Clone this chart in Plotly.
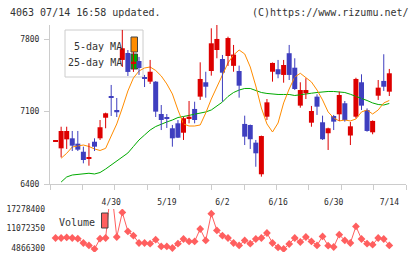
import plotly.graph_objects as go

dates = ["4/15","4/16","4/17","4/20","4/21","4/22","4/23","4/24","4/27","4/28","4/30",
         "5/1","5/7","5/8","5/11","5/12","5/13","5/14","5/15","5/18","5/19","5/20","5/21","5/22","5/25","5/26","5/27","5/28","5/29",
         "6/1","6/2","6/3","6/4","6/5","6/8","6/9","6/10","6/11","6/12","6/15","6/16","6/17","6/18","6/19","6/22","6/23","6/24","6/25","6/26","6/29","6/30",
         "7/1","7/2","7/3","7/6","7/7","7/8","7/9","7/10","7/13","7/14"]

opens = [6810,6745,6832,6842,6790,6712,6647,6809,6842,7041,7251,7116,7600,7667,7561,7590,7428,7390,7390,7077,
         7045,6939,6987,6896,7029,7126,7245,7384,7493,7696,7609,7638,7543,7493,6981,6971,6800,6494,7051,7486,
         7510,7455,7665,7525,7158,7278,6993,7245,6997,6891,7058,7074,7181,6869,7051,7384,7116,6900,7254,7397,7293]
highs = [6815,6954,6954,6913,6913,6761,6794,6842,7019,7090,7358,7232,7890,7696,7677,7629,7455,7600,7395,7164,
         7077,6971,7019,7051,7203,7196,7577,7486,7906,7938,7648,7825,7745,7545,7061,6975,6826,6868,7222,7575,
         7600,7600,7745,7616,7384,7423,7155,7268,7061,6945,7068,7293,7203,7000,7428,7461,7132,7015,7406,7655,7513]
lows = [6810,6658,6739,6719,6719,6600,6577,6719,6826,6939,7058,7048,7532,7445,7484,7455,7338,7368,7048,6922,
        6942,6761,6845,6826,6987,6987,7213,7235,7448,7616,7196,7542,7486,7235,6777,6739,6567,6471,7019,7390,
        7423,7380,7406,7309,7138,7222,6954,7068,6826,6729,6922,7010,7003,6777,7036,7116,6906,6881,7213,7300,7251]
closes = [6815,6913,6913,6771,6732,6632,6661,6761,6949,7084,7237,7094,7713,7484,7583,7522,7420,7486,7100,7019,
          7035,6842,6848,7036,7051,7019,7416,7341,7761,7803,7477,7812,7652,7351,6858,6833,6697,6864,7190,7571,
          7461,7551,7455,7319,7309,7309,7106,7148,6833,6939,7003,7261,7019,6958,7416,7158,6913,7010,7332,7341,7471]

ma5 = [None,6649,6697,6758,6771,6777,6763,6739,6724,6745,6864,6981,7135,7300,7426,7493,7522,7532,7498,7445,
       7368,7271,7116,6981,6961,6961,6971,7087,7222,7339,7455,7571,7648,7696,7658,7532,7348,7135,6981,6903,
       6990,7184,7319,7435,7471,7426,7387,7309,7213,7097,7039,7010,7019,7010,7029,7097,7116,7077,7116,7184,7208]
ma25 = [None,6419,6468,6487,6494,6502,6504,6497,6511,6545,6584,6623,6661,6700,6763,6826,6874,6922,6956,6981,
        7000,7019,7043,7053,7063,7072,7084,7097,7116,7155,7193,7247,7285,7309,7324,7324,7305,7285,7276,7268,
        7266,7266,7266,7256,7261,7271,7278,7285,7293,7295,7295,7293,7285,7268,7251,7227,7208,7184,7169,7164,7179]

volume = [8050000,8050000,8240000,8050000,7830000,6460000,5690000,4550000,7830000,8050000,24700000,8370000,
          16200000,10150000,8780000,6460000,6460000,6240000,7510000,5380000,5380000,4870000,6240000,7730000,
          6970000,6970000,10910000,7290000,15780000,10470000,8780000,8050000,6460000,5690000,7290000,6240000,
          7730000,8050000,9640000,6460000,5060000,4550000,6140000,8050000,6780000,8370000,6970000,5690000,
          8560000,5600000,5180000,9100000,7290000,6460000,11740000,7730000,6240000,5920000,8050000,7730000,5690000]

tick_dates = ["4/30", "5/19", "6/2", "6/16", "6/30", "7/14"]
price_ticks = [6400, 7100, 7800]
vol_ticks = [4866300, 11072350, 17278400]

UP = "#dd0000"
DOWN = "#3f3fbf"
MONO = "DejaVu Sans Mono"
TXT = "#2a2a2a"
AX = "#cccccc"

idx = list(range(len(dates)))
label_idx = [dates.index(d) for d in tick_dates]

fig = go.Figure()

# moving averages (under candles)
fig.add_trace(go.Scatter(x=idx, y=ma25, mode="lines", line=dict(color="#00aa00", width=1), hoverinfo="skip"))
fig.add_trace(go.Scatter(x=idx, y=ma5, mode="lines", line=dict(color="#ff8c00", width=1), hoverinfo="skip"))

# wicks
for up, col in ((True, UP), (False, DOWN)):
    wx, wy = [], []
    for i in idx:
        if (closes[i] > opens[i]) == up:
            wx += [i, i, None]
            wy += [lows[i], highs[i], None]
    fig.add_trace(go.Scatter(x=wx, y=wy, mode="lines", line=dict(color=col, width=1), hoverinfo="skip"))

# bodies
for up, col in ((True, UP), (False, DOWN)):
    bx, bb, bh = [], [], []
    for i in idx:
        if (closes[i] > opens[i]) == up:
            bx.append(i)
            bb.append(min(opens[i], closes[i]))
            bh.append(max(abs(closes[i] - opens[i]), 9))
    fig.add_trace(go.Bar(x=bx, y=bh, base=bb, width=0.9, marker=dict(color=col, line=dict(width=0)),
                         hoverinfo="skip"))

# volume
fig.add_trace(go.Scatter(x=idx, y=volume, mode="lines+markers", xaxis="x2", yaxis="y2",
                         line=dict(color="#ff5f5f", width=1),
                         marker=dict(symbol="diamond", size=6, color="#ff5f5f"), hoverinfo="skip"))

# invisible trace for date label axis
fig.add_trace(go.Scatter(x=[label_idx[0]], y=[price_ticks[0]], xaxis="x3", yaxis="y", mode="markers",
                         marker=dict(opacity=0), hoverinfo="skip"))

n_grid = 11
grid_vals = [-1 + k * 64 / n_grid for k in range(n_grid + 1)]

main_dom = [(252 - 184) / 227, 1]
vol_dom = [0, (252 - 209) / 227]

fig.update_layout(
    width=420, height=259, autosize=False,
    margin=dict(l=50, r=14, t=25, b=7, autoexpand=False),
    paper_bgcolor="white", plot_bgcolor="white",
    showlegend=False, barmode="overlay",
    xaxis=dict(domain=[0, 1], range=[-1, 63], anchor="y", tickvals=grid_vals, showticklabels=False,
               ticks="outside", ticklen=5, tickcolor=AX, showline=True, linecolor=AX, linewidth=1,
               showgrid=False, zeroline=False, automargin=False),
    xaxis3=dict(overlaying="x", anchor="y", range=[-1, 63], tickvals=label_idx, ticktext=tick_dates,
                ticks="outside", ticklen=10, tickcolor="rgba(0,0,0,0)", showline=False, showgrid=False,
                zeroline=False, side="bottom", tickfont=dict(family=MONO, size=8, color=TXT),
                automargin=False),
    yaxis=dict(domain=main_dom, range=[6400, 7938], tickvals=price_ticks, ticks="outside", ticklen=5,
               tickcolor=AX, showline=True, linecolor=AX, linewidth=1, showgrid=False, zeroline=False,
               tickfont=dict(family=MONO, size=8, color=TXT), ticklabelstandoff=3, automargin=False),
    xaxis2=dict(domain=[0, 1], range=[-1, 63], anchor="y2", showline=False, ticks="", showticklabels=False,
                showgrid=False, zeroline=False, automargin=False),
    yaxis2=dict(domain=vol_dom, range=[3593263, 17278400], tickvals=vol_ticks,
                ticktext=[str(v) for v in vol_ticks], showline=False, ticks="", showgrid=False,
                zeroline=False, tickfont=dict(family=MONO, size=8, color=TXT), ticklabelstandoff=4,
                automargin=False),
)

def px_x(p):
    return (p - 50) / 356

def px_y(p):
    return (252 - p) / 227

shapes = [
    dict(type="rect", xref="paper", yref="paper", x0=px_x(65), x1=px_x(143), y0=px_y(77), y1=px_y(30),
         line=dict(color="#cccccc", width=1), fillcolor="white", layer="below"),
    dict(type="rect", xref="paper", yref="paper", x0=px_x(131), x1=px_x(137.5), y0=px_y(52), y1=px_y(37),
         line=dict(color="#444444", width=1), fillcolor="#ff8c00", layer="below"),
    dict(type="rect", xref="paper", yref="paper", x0=px_x(131), x1=px_x(137.5), y0=px_y(69), y1=px_y(54),
         line=dict(color="#444444", width=1), fillcolor="#00aa00", layer="below"),
    dict(type="rect", xref="paper", yref="paper", x0=px_x(101.5), x1=px_x(108), y0=px_y(228), y1=px_y(213),
         line=dict(color="#444444", width=1), fillcolor="#ff5f5f", layer="above"),
]
fig.update_layout(shapes=shapes)

ann_font = dict(family=MONO, size=10, color="#333333")
annotations = [
    dict(text="4063 07/14 16:58 updated.", x=px_x(8), y=px_y(12), xref="paper", yref="paper",
         xanchor="left", yanchor="middle", showarrow=False, font=ann_font),
    dict(text="(C)https://www.rizumu.net/", x=px_x(411), y=px_y(12), xref="paper", yref="paper",
         xanchor="right", yanchor="middle", showarrow=False, font=ann_font),
    dict(text="5-day MA", x=px_x(124), y=px_y(46), xref="paper", yref="paper",
         xanchor="right", yanchor="middle", showarrow=False, font=ann_font),
    dict(text="25-day MA", x=px_x(124), y=px_y(62.5), xref="paper", yref="paper",
         xanchor="right", yanchor="middle", showarrow=False, font=ann_font),
    dict(text="Volume", x=px_x(57), y=px_y(222), xref="paper", yref="paper",
         xanchor="left", yanchor="middle", showarrow=False, font=ann_font),
]
fig.update_layout(annotations=annotations)

fig.write_html("out.html")
